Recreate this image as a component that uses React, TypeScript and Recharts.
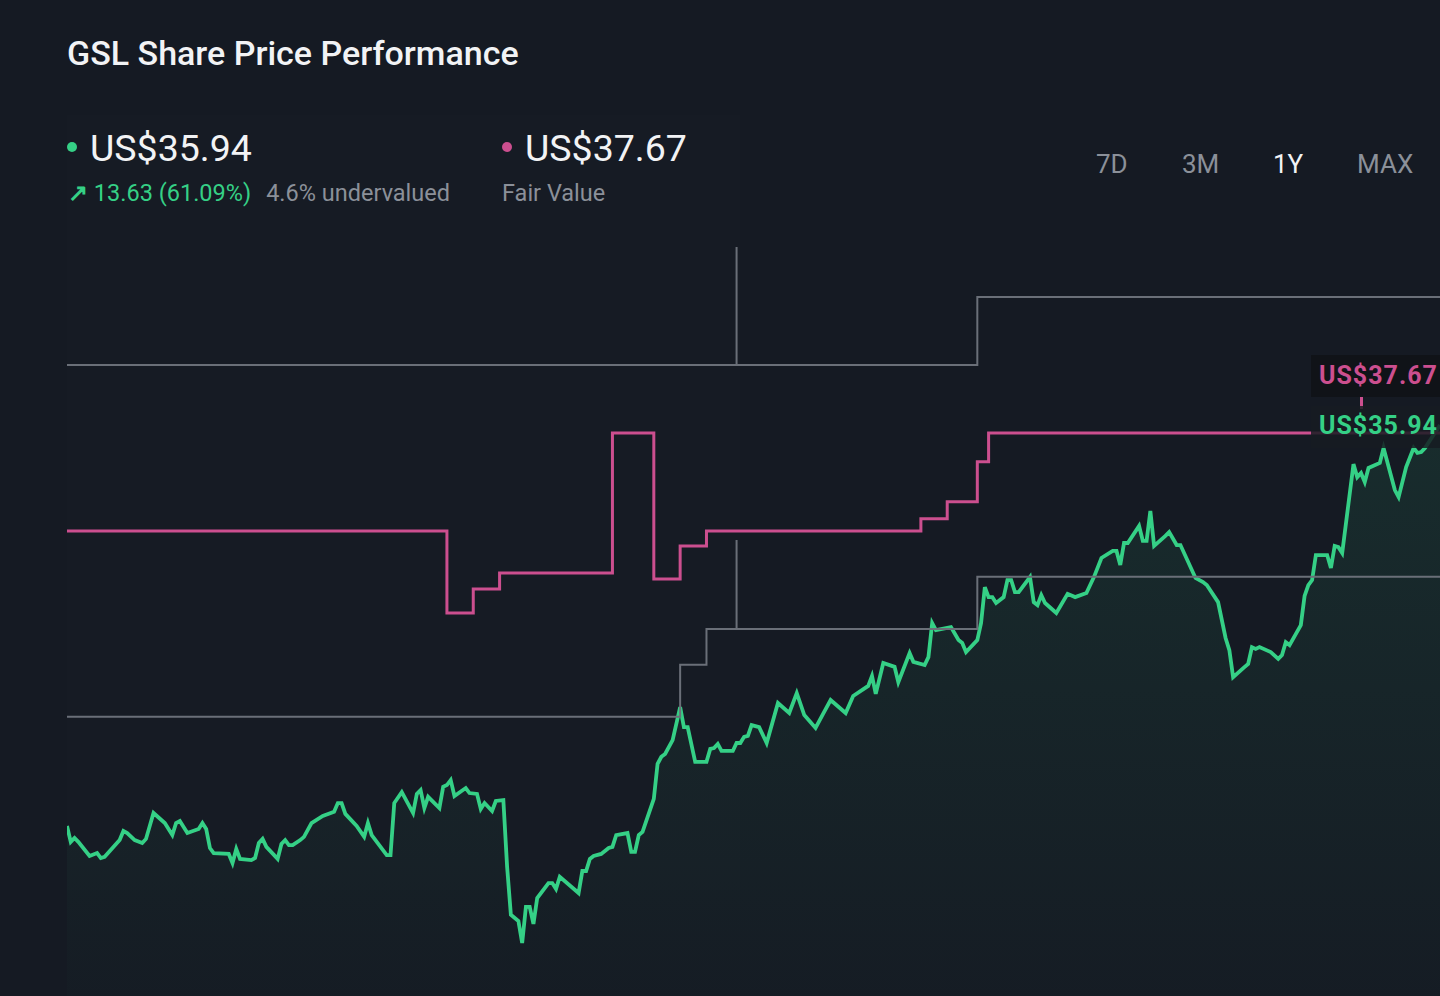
import React from "react";
import { ComposedChart, Area, Line, XAxis, YAxis } from "recharts";

// day offsets (0..365) and closing price
const priceDay = [
  0, 1, 2, 3, 6, 8, 9, 10, 14, 15, 16, 18, 20, 21, 23, 26, 28, 29, 30, 32, 35, 36, 37, 38, 39, 43, 44, 45, 46, 49,
  50, 51, 52, 53, 56, 57, 58, 59, 60, 62, 63, 65, 68, 71, 72, 73, 74, 77, 79, 80, 81, 85, 86, 87, 89, 92, 93, 94, 95, 96,
  99, 100, 101, 102, 103, 106, 107, 109, 110, 111, 113, 114, 116, 117, 118, 120, 121, 122, 123, 124, 125, 128, 129, 130, 131, 136, 137, 138, 139, 140,
  142, 144, 145, 146, 149, 150, 151, 152, 153, 156, 157, 158, 159, 161, 163, 164, 165, 167, 170, 171, 172, 173, 174, 177, 178, 179, 180, 181, 182, 184,
  186, 189, 192, 194, 196, 199, 201, 203, 207, 209, 213, 214, 215, 217, 220, 221, 224, 225, 228, 229, 230, 231, 235, 237, 238, 239, 242, 243, 244, 245,
  246, 247, 249, 250, 251, 252, 253, 256, 257, 258, 259, 260, 263, 266, 268, 271, 273, 275, 278, 279, 280, 281, 282, 285, 286, 287, 288, 289, 292, 293,
  295, 296, 300, 302, 303, 306, 308, 309, 310, 313, 314, 315, 316, 317, 320, 322, 323, 324, 325, 328, 329, 330, 331, 332, 335, 336, 337, 338, 339, 342,
  343, 344, 345, 346, 349, 350, 353, 354, 356, 358, 359, 360, 361, 365,
];
const priceUsd = [
  22.31, 21.77, 21.9, 21.77, 21.29, 21.39, 21.22, 21.26, 21.83, 22.14, 22.07, 21.83, 21.73, 21.87, 22.75, 22.41, 22.0, 22.41, 22.48, 22.07, 22.21, 22.41, 22.21, 21.56, 21.39, 21.36, 21.05, 21.53, 21.19, 21.15,
  21.22, 21.73, 21.87, 21.6, 21.19, 21.7, 21.83, 21.66, 21.66, 21.83, 21.94, 22.41, 22.65, 22.79, 23.09, 23.09, 22.72, 22.31, 21.94, 22.41, 22.0, 21.32, 21.32, 23.09, 23.46, 22.75, 23.4, 23.53, 22.92, 23.3,
  22.92, 23.64, 23.7, 23.87, 23.33, 23.6, 23.43, 23.4, 22.89, 23.09, 22.82, 23.16, 23.19, 20.92, 19.29, 19.08, 18.33, 19.56, 19.56, 18.98, 19.86, 20.37, 20.37, 20.17, 20.58, 20.03, 20.78, 20.78, 21.19, 21.29,
  21.36, 21.56, 21.6, 22.0, 22.07, 21.43, 21.43, 22.0, 22.11, 23.23, 24.42, 24.66, 24.76, 25.23, 26.35, 25.67, 25.67, 24.49, 24.49, 24.93, 24.96, 25.1, 24.86, 24.86, 25.13, 25.13, 25.34, 25.37, 25.74, 25.67,
  25.13, 26.49, 26.15, 26.83, 26.08, 25.64, 26.12, 26.59, 26.15, 26.73, 27.07, 27.41, 26.8, 27.85, 27.72, 27.2, 28.19, 27.89, 27.78, 28.05, 29.21, 28.97, 29.07, 28.63, 28.53, 28.22, 28.63, 29.21, 30.43, 30.09,
  30.09, 29.89, 30.09, 30.67, 30.67, 30.26, 30.26, 30.77, 29.92, 29.82, 30.16, 29.89, 29.55, 30.2, 30.09, 30.23, 30.77, 31.42, 31.66, 31.66, 31.18, 31.93, 31.93, 32.51, 32.0, 32.0, 33.02, 31.83, 32.17, 32.3,
  31.86, 31.86, 30.74, 30.6, 30.5, 29.92, 28.7, 28.29, 27.37, 27.71, 27.82, 28.39, 28.33, 28.39, 28.22, 27.99, 28.12, 28.56, 28.46, 29.14, 30.13, 30.5, 30.67, 31.52, 31.52, 31.08, 31.83, 31.79, 31.59, 34.61,
  34.17, 34.31, 34.0, 34.48, 34.65, 35.16, 33.73, 33.49, 34.51, 35.16, 34.99, 35.02, 35.16, 35.94,
];

// fair value estimate, changes only on these days
const fairDay = [0, 101, 108, 115, 145, 156, 163, 170, 227, 234, 242, 245, 365];
const fairUsd = [34.34, 31.55, 32.37, 32.91, 37.67, 32.71, 33.83, 34.34, 34.75, 35.33, 36.69, 37.67, 37.67];

// analyst target range (low / high)
const lowDay = [0, 163, 170, 178, 178, 178, 242, 365];
const lowUsd = [28.02, 29.79, 31.01, 31.01, 34.03, 31.01, 32.78, 32.78];
const highDay = [0, 178, 178, 178, 242, 365];
const highUsd = [39.98, 39.98, 43.99, 39.98, 42.29, 42.29];

const ranges = ["7D", "3M", "1Y", "MAX"];

const zip = (days: number[], vals: number[]) => days.map((d, i) => ({ d, v: vals[i] }));
const priceData = zip(priceDay, priceUsd);
const fairData = zip(fairDay, fairUsd);
const lowData = zip(lowDay, lowUsd);
const highData = zip(highDay, highUsd);

const GREEN = "#35d086";
const PINK = "#cc4f8f";
const GREY = "#6a6f78";
const MUTED = "#8b9099";
const BG = "#151a23";

export default function App() {
  return (
    <div
      style={{
        position: "relative",
        width: 1440,
        height: 996,
        background: BG,
        overflow: "hidden",
        fontFamily: "Roboto, 'Noto Sans', sans-serif",
        color: "#f2f3f5",
      }}
    >
      <style>{`body{margin:0;background:${BG}}`}</style>
      <div style={{ position: "absolute", left: 67, top: 115, width: 673, height: 775, background: "rgba(255,255,255,0.008)" }} />

      <div style={{ position: "absolute", left: 67, top: 33, fontSize: 34, fontWeight: 500 }}>GSL Share Price Performance</div>

      <div style={{ position: "absolute", left: 67, top: 142, width: 10, height: 10, borderRadius: 5, background: GREEN }} />
      <div style={{ position: "absolute", left: 90, top: 126, fontSize: 37.5 }}>US$35.94</div>
      <div style={{ position: "absolute", left: 68, top: 179, fontSize: 23.5, color: GREEN }}>
        <span style={{ fontWeight: 700 }}>↗</span> 13.63 (61.09%)
        <span style={{ color: MUTED, marginLeft: 15 }}>4.6% undervalued</span>
      </div>

      <div style={{ position: "absolute", left: 502, top: 142, width: 10, height: 10, borderRadius: 5, background: PINK }} />
      <div style={{ position: "absolute", left: 525, top: 126, fontSize: 37.5 }}>US$37.67</div>
      <div style={{ position: "absolute", left: 502, top: 179, fontSize: 23.5, color: MUTED }}>Fair Value</div>

      {ranges.map((r, i) => (
        <div
          key={r}
          style={{
            position: "absolute",
            left: [1096, 1182, 1273, 1357][i],
            top: 149,
            fontSize: 26,
            color: r === "1Y" ? "#f2f3f5" : MUTED,
          }}
        >
          {r}
        </div>
      ))}

      <div style={{ position: "absolute", left: 67, top: 230 }}>
        <ComposedChart width={1373} height={766} margin={{ top: 0, right: 0, bottom: 0, left: 0 }}>
          <defs>
            <linearGradient id="priceFill" x1="0" y1="0" x2="0" y2="1">
              <stop offset="0%" stopColor={GREEN} stopOpacity={0.17} />
              <stop offset="100%" stopColor={GREEN} stopOpacity={0.02} />
            </linearGradient>
          </defs>
          <XAxis dataKey="d" type="number" domain={[0, 365]} hide allowDuplicatedCategory={false} />
          <YAxis yAxisId="p" type="number" domain={[16.53, 42.57]} hide allowDataOverflow />
          <YAxis yAxisId="fv" type="number" domain={[18.53, 44.57]} hide allowDataOverflow />
          <Line data={highData} yAxisId="fv" dataKey="v" type="stepAfter" stroke={GREY} strokeWidth={2} dot={false} isAnimationActive={false} />
          <Line data={lowData} yAxisId="fv" dataKey="v" type="stepAfter" stroke={GREY} strokeWidth={2} dot={false} isAnimationActive={false} />
          <Area
            data={priceData}
            yAxisId="p"
            dataKey="v"
            type="linear"
            stroke={GREEN}
            strokeWidth={3.8}
            fill="url(#priceFill)"
            dot={false}
            isAnimationActive={false}
          />
          <Line data={fairData} yAxisId="fv" dataKey="v" type="stepAfter" stroke={PINK} strokeWidth={3} dot={false} isAnimationActive={false} />
        </ComposedChart>
      </div>

      <div style={{ position: "absolute", left: 1311, top: 355, width: 140, height: 42, background: "rgba(16,18,24,0.92)" }} />
      <div style={{ position: "absolute", left: 1360, top: 397, width: 3, height: 12, background: PINK }} />
      <div style={{ position: "absolute", left: 1311, top: 406, width: 140, height: 42, background: "rgba(22,28,34,0.85)" }} />
      <div style={{ position: "absolute", left: 1319, top: 361, fontSize: 25, fontWeight: 700, color: PINK, letterSpacing: 1 }}>US$37.67</div>
      <div style={{ position: "absolute", left: 1319, top: 411, fontSize: 25, fontWeight: 700, color: GREEN, letterSpacing: 1 }}>US$35.94</div>
    </div>
  );
}
